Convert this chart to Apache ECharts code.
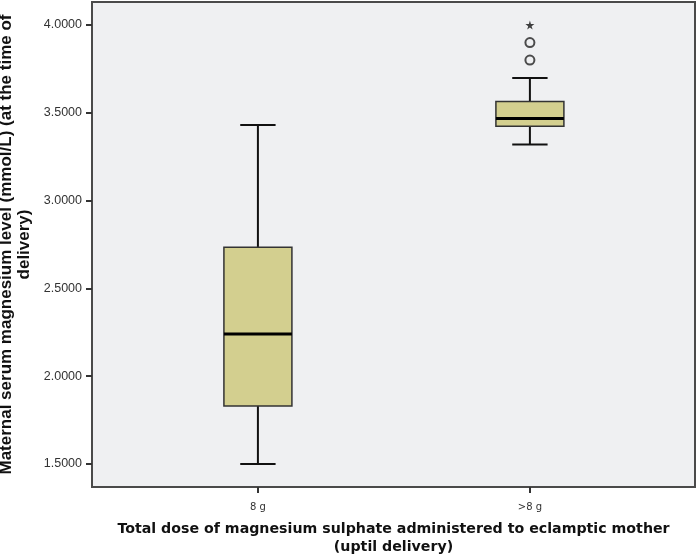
<!DOCTYPE html>
<html>
<head>
<meta charset="utf-8">
<script src="https://cdn.jsdelivr.net/npm/echarts@6/dist/echarts.min.js"></script>
<style>
  html, body { margin: 0; padding: 0; background: #fff; }
  #chart { width: 699px; height: 559px; }
</style>
</head>
<body>
<div id="chart"></div>
<script>
const categories = ["8 g", ">8 g"];
const catPos = [1, 2];
const lowWhisker = [1.50, 3.32];
const q1 = [1.83, 3.423];
const median = [2.24, 3.467];
const q3 = [2.735, 3.564];
const highWhisker = [3.43, 3.698];
const outliers = [[2, 3.80], [2, 3.90]];   // circles
const extremes = [[2, 4.00]];              // star
const yTicks = [1.5, 2.0, 2.5, 3.0, 3.5, 4.0];

const boxData = catPos.map((p, i) => [p, lowWhisker[i], q1[i], median[i], q3[i], highWhisker[i]]);

const starPath = "path://M50,0 L61,35 L98,35 L68,57 L79,91 L50,70 L21,91 L32,57 L2,35 L39,35 Z";

function renderBox(params, api) {
  const x = api.value(0);
  const lo = api.coord([x, api.value(1)]);
  const b1 = api.coord([x, api.value(2)]);
  const md = api.coord([x, api.value(3)]);
  const b3 = api.coord([x, api.value(4)]);
  const hi = api.coord([x, api.value(5)]);
  const band = api.size([1, 0])[0];
  const hw = band * 0.125;  // half box width
  const cw = band * 0.065;  // half cap width
  const cx = lo[0];
  const wStyle = { stroke: "#111", lineWidth: 2 };
  return {
    type: "group",
    children: [
      { type: "line", shape: { x1: cx, y1: hi[1], x2: cx, y2: b3[1] }, style: wStyle },
      { type: "line", shape: { x1: cx, y1: b1[1], x2: cx, y2: lo[1] }, style: wStyle },
      { type: "line", shape: { x1: cx - cw, y1: hi[1], x2: cx + cw, y2: hi[1] }, style: wStyle },
      { type: "line", shape: { x1: cx - cw, y1: lo[1], x2: cx + cw, y2: lo[1] }, style: wStyle },
      { type: "rect", shape: { x: cx - hw, y: b3[1], width: hw * 2, height: b1[1] - b3[1] },
        style: { fill: "#d3cf8f", stroke: "#333", lineWidth: 1.5 } },
      { type: "line", shape: { x1: cx - hw, y1: md[1], x2: cx + hw, y2: md[1] },
        style: { stroke: "#000", lineWidth: 3 } }
    ]
  };
}

const chart = echarts.init(document.getElementById("chart"));
chart.setOption({
  animation: false,
  backgroundColor: "#fff",
  grid: {
    left: 92, right: 4, top: 2, bottom: 72,
    outerBoundsMode: "none",
    containLabel: false,
    show: true, backgroundColor: "#eff0f2", borderColor: "#4a4a4a", borderWidth: 2
  },
  xAxis: {
    type: "value",
    min: 0.39, max: 2.607,
    axisLine: { show: false },
    splitLine: { show: false },
    axisTick: { show: true, customValues: catPos, length: 6, lineStyle: { color: "#333", width: 2 } },
    axisLabel: {
      customValues: catPos, margin: 15,
      formatter: v => categories[Math.round(v) - 1] || "",
      fontFamily: "DejaVu Sans", fontSize: 10, color: "#333"
    },
    name: "Total dose of magnesium sulphate administered to eclamptic mother\n(uptil delivery)",
    nameLocation: "middle",
    nameGap: 33,
    nameTextStyle: { fontFamily: "DejaVu Sans", fontWeight: "bold", fontSize: 14.2, color: "#111", lineHeight: 18, align: "center", verticalAlign: "top" }
  },
  yAxis: {
    type: "value",
    min: 1.369, max: 4.131,
    axisLine: { show: false },
    splitLine: { show: false },
    axisTick: { show: true, customValues: yTicks, length: 6, lineStyle: { color: "#333", width: 2 } },
    axisLabel: {
      customValues: yTicks, margin: 10,
      formatter: v => v.toFixed(4),
      fontFamily: "Liberation Sans", fontSize: 12.5, color: "#333"
    },
    name: "Maternal serum magnesium level (mmol/L) (at the time of\ndelivery)",
    nameLocation: "middle",
    nameGap: 48,
    nameTextStyle: { fontFamily: "Liberation Sans", fontWeight: "bold", fontSize: 17, color: "#111", lineHeight: 18, align: "center" }
  },
  series: [
    {
      type: "custom",
      renderItem: renderBox,
      encode: { x: 0, y: [1, 2, 3, 4, 5] },
      data: boxData,
      z: 3
    },
    {
      type: "scatter",
      data: outliers,
      symbol: "circle",
      symbolSize: 9,
      itemStyle: { color: "rgba(0,0,0,0)", borderColor: "#222", borderWidth: 2 },
      z: 4
    },
    {
      type: "scatter",
      data: extremes,
      symbol: starPath,
      symbolSize: 9,
      itemStyle: { color: "#111" },
      z: 4
    }
  ]
});
</script>
</body>
</html>
